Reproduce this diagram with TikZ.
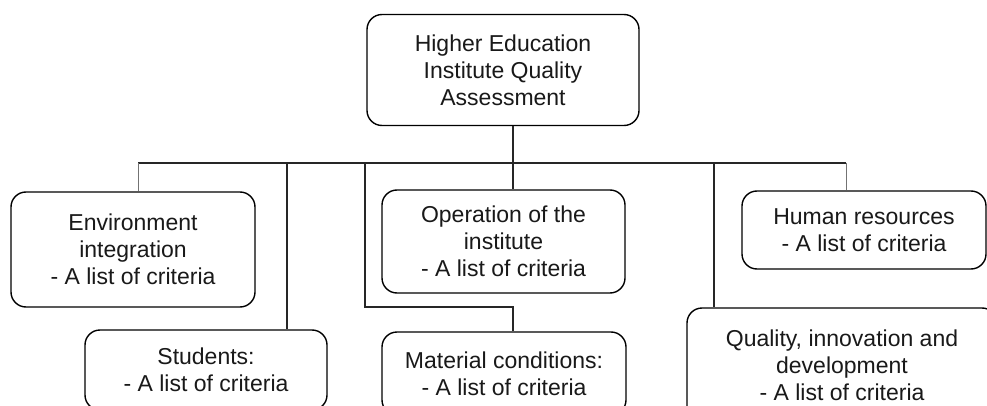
\documentclass[tikz,border=0pt]{standalone}
\usepackage{fontspec}
\setmainfont{Liberation Sans}
\begin{document}
\begin{tikzpicture}[x=1pt,y=-1pt,
  box/.style={draw=black,line width=1.4pt,rounded corners=15pt,align=center,
    inner sep=0pt,font=\fontsize{23}{27}\selectfont,text=black!90},
  conn/.style={line width=1.4pt,draw=black!85},
  thinconn/.style={line width=1pt,draw=black!55}]
\useasboundingbox (0,0) rectangle (987,406);
\clip (0,0) rectangle (987,406);
\fill[white] (0,0) rectangle (987,406);
\node[box,minimum width=272pt,minimum height=111pt] (top) at (503,70)
  {Higher Education\\Institute Quality\\Assessment};
\node[box,minimum width=244pt,minimum height=115pt] (env) at (133,249.5)
  {Environment\\integration\\- A list of criteria};
\node[box,minimum width=243pt,minimum height=103pt] (op) at (503.5,241.5)
  {Operation of the\\institute\\- A list of criteria};
\node[box,minimum width=244pt,minimum height=78pt] (hum) at (864,230)
  {Human resources\\- A list of criteria};
\node[box,minimum width=242pt,minimum height=80pt] (stu) at (206,370)
  {Students:\\- A list of criteria};
\node[box,minimum width=244pt,minimum height=83pt] (mat) at (504,373.5)
  {Material conditions:\\- A list of criteria};
\node[box,minimum width=310pt,minimum height=114pt] (qual) at (842,365)
  {Quality, innovation and\\development\\- A list of criteria};
\coordinate (bL) at (138,163);
\coordinate (bR) at (846,163);
\coordinate (bus) at (513,163);
\coordinate (bS) at (287,163);
\coordinate (bM) at (365,163);
\coordinate (bQ) at (714,163);
\coordinate (mid) at (513,307);
\draw[conn] (top.south -| bus) -- (bus);
\draw[conn] (bL) -- (bR);
\draw[thinconn] (bL) -- (bL |- env.north);
\draw[thinconn] (bR) -- (bR |- hum.north);
\draw[conn] (bus) -- (bus |- op.north);
\draw[conn] (bS) -- (bS |- stu.north);
\draw[conn] (bM) |- (mid) -- (mid |- mat.north);
\draw[conn] (bQ) -- (bQ |- qual.north);
\end{tikzpicture}
\end{document}
